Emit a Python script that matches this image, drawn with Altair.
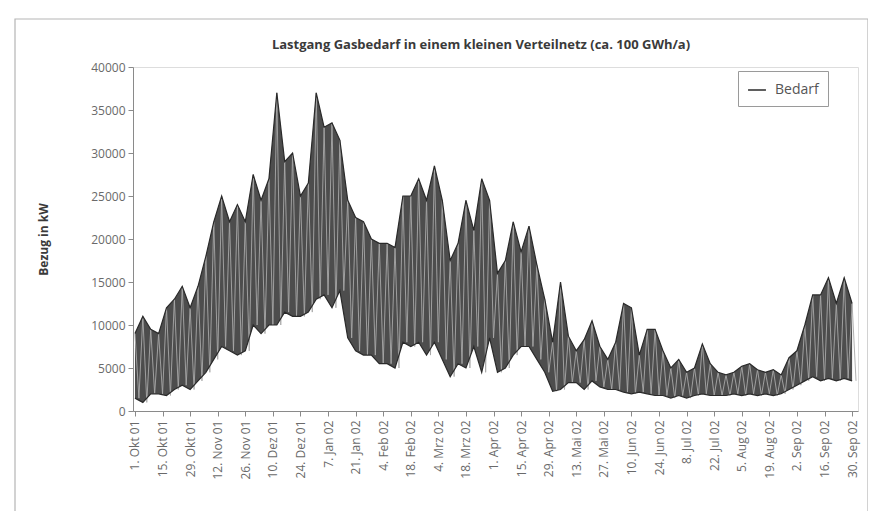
import altair as alt
import pandas as pd

# days since 1 Okt 01 (every 4 days), daily peak / trough envelope (kW)
DAYS = list(range(0, 368, 4))
HI = [9000, 11000, 9500, 9000, 12000, 13000, 14500, 12000, 14500, 18000,
      22000, 25000, 22000, 24000, 22000, 27500, 24500, 27000, 37000, 29000,
      30000, 25000, 26500, 37000, 33000, 33500, 31500, 24500, 22500, 22000,
      20000, 19500, 19500, 19000, 25000, 25000, 27000, 24500, 28500, 24500,
      17500, 19500, 24500, 21000, 27000, 24500, 16000, 17500, 22000, 18500,
      21500, 17000, 13000, 8000, 15000, 8700, 7000, 8300, 10500, 7500,
      6000, 8000, 12500, 12000, 6500, 9500, 9500, 7000, 5000, 6000,
      4500, 5000, 7800, 5500, 4500, 4200, 4500, 5200, 5500, 4800,
      4500, 4800, 4200, 6200, 7000, 10000, 13500, 13500, 15500, 12500,
      15500, 12500]
LO = [1500, 1000, 2000, 2000, 1800, 2500, 3000, 2500, 3500, 4500,
      6000, 7500, 7000, 6500, 7000, 10000, 9000, 10000, 10000, 11500,
      11000, 11000, 11500, 13000, 13500, 12000, 14000, 8500, 7000, 6500,
      6500, 5500, 5500, 5000, 8000, 7500, 8000, 6500, 8000, 6000,
      4000, 5500, 5000, 7500, 4500, 8500, 4500, 5000, 6500, 7500,
      7500, 6000, 4500, 2300, 2500, 3300, 3300, 2500, 3500, 2800,
      2500, 2500, 2200, 2000, 2200, 2000, 1800, 1800, 1500, 1800,
      1500, 1800, 2000, 1800, 1800, 1800, 2000, 1800, 2000, 1800,
      2000, 1800, 2000, 2500, 3000, 3500, 4000, 3500, 3800, 3500,
      3800, 3500]

TICK_DAYS = list(range(0, 365, 14))
TICK_LABELS = ["1. Okt 01", "15. Okt 01", "29. Okt 01", "12. Nov 01", "26. Nov 01",
               "10. Dez 01", "24. Dez 01", "7. Jan 02", "21. Jan 02", "4. Feb 02",
               "18. Feb 02", "4. Mrz 02", "18. Mrz 02", "1. Apr 02", "15. Apr 02",
               "29. Apr 02", "13. Mai 02", "27. Mai 02", "10. Jun 02", "24. Jun 02",
               "8. Jul 02", "22. Jul 02", "5. Aug 02", "19. Aug 02", "2. Sep 02",
               "16. Sep 02", "30. Sep 02"]
Y_TICKS = list(range(0, 40001, 5000))
TITLE = "Lastgang Gasbedarf in einem kleinen Verteilnetz (ca. 100 GWh/a)"

band = pd.DataFrame({"tag": DAYS, "lo": LO, "hi": HI, "serie": "Bedarf"})
rows = []
for d, h, l in zip(DAYS, HI, LO):
    rows.append({"tag": d, "kw": h})
    rows.append({"tag": d + 2, "kw": l})
line_df = pd.DataFrame(rows)
one = pd.DataFrame({"k": [0]})

label_expr = "[" + ",".join("'%s'" % s for s in TICK_LABELS) + "][round(datum.value/14)]"

xscale = alt.Scale(domain=[-1, 367], nice=False, zero=False)
yscale = alt.Scale(domain=[0, 40000], nice=False)

xaxis = alt.Axis(values=TICK_DAYS, labelExpr=label_expr, labelAngle=270,
                 labelAlign="right", labelBaseline="middle", title=None, grid=False,
                 labelFontSize=12, labelColor="#6a6a6a", labelFont="Open Sans",
                 domainColor="#8a8a8a", tickColor="#8a8a8a", tickSize=5, labelPadding=4,
                 labelOverlap=False, labelSeparation=0, labelBound=False, labelFlush=False)
yaxis = alt.Axis(values=Y_TICKS, format="d", title="Bezug in kW", grid=False,
                 labelFontSize=12, labelColor="#6a6a6a", labelFont="Open Sans",
                 titleFont="Open Sans", titleFontSize=12, titleFontWeight="bold",
                 titleColor="#3a3a3a", titlePadding=40,
                 domainColor="#8a8a8a", tickColor="#8a8a8a", tickSize=5, labelPadding=3)

X = alt.X("tag:Q", scale=xscale, axis=xaxis)

area = alt.Chart(band).mark_area(color="#4d4d4d").encode(
    x=X,
    y=alt.Y("lo:Q", scale=yscale, axis=yaxis),
    y2="hi:Q",
)

zigzag = alt.Chart(line_df).mark_line(strokeWidth=0.9, color="#a8a8a8").encode(
    x=X,
    y=alt.Y("kw:Q", scale=yscale, axis=yaxis),
)

upper = alt.Chart(band).mark_line(strokeWidth=1.2).encode(
    x=X,
    y=alt.Y("hi:Q", scale=yscale, axis=yaxis),
    color=alt.Color("serie:N", scale=alt.Scale(domain=["Bedarf"], range=["#2a2a2a"]),
                    legend=alt.Legend(title=None, orient="none", legendX=605, legendY=4,
                                      strokeColor="#9a9a9a", fillColor="white", padding=9,
                                      labelFontSize=14, labelColor="#555555",
                                      labelFont="Open Sans", symbolStrokeWidth=1.5,
                                      symbolSize=320, labelOffset=8)),
)
lower = alt.Chart(band).mark_line(strokeWidth=1.2, color="#2a2a2a").encode(
    x=X,
    y=alt.Y("lo:Q", scale=yscale, axis=yaxis),
)

title = alt.Chart(one).mark_text(text=TITLE, font="Open Sans", fontSize=13,
                                 fontWeight="bold", color="#3a3a3a", align="center",
                                 baseline="alphabetic", clip=False).encode(
    x=alt.value(348), y=alt.value(-18)
)

frame = alt.Chart(one).mark_rect(fill=None, stroke="#b5b5b5", strokeWidth=1.2,
                                 clip=False).encode(
    x=alt.value(-118), x2=alt.value(735), y=alt.value(-48), y2=alt.value(446)
)

chart = alt.layer(area, zigzag, upper, lower, title, frame).properties(
    width=725, height=344,
    autosize=alt.AutoSizeParams(type="none"),
    padding={"left": 125, "top": 59, "right": 10, "bottom": 100},
).configure_view(stroke="#8a8a8a", strokeWidth=1).configure(background="white")

chart.save("out.html", embed_options={"renderer": "svg", "actions": False})
